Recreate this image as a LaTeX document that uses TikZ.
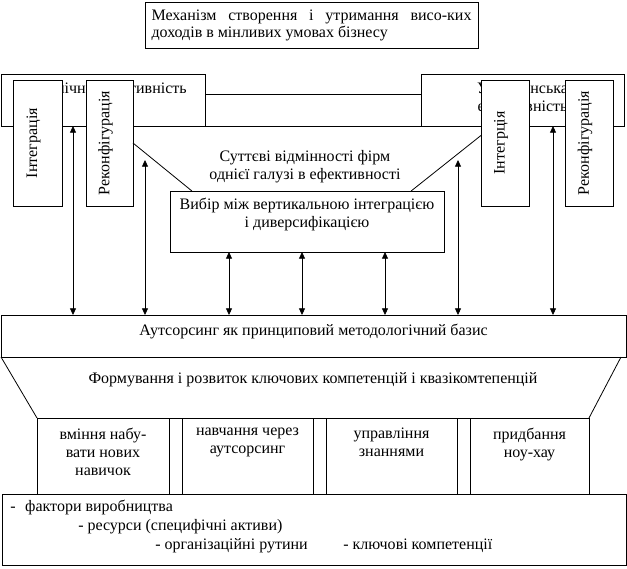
\documentclass[tikz,border=0pt]{standalone}
\usepackage{fontspec}
\setmainfont{Liberation Serif}
\usetikzlibrary{
	arrows.meta,
	positioning,
	calc
}

\begin{document}
\begin{tikzpicture}[
				x=0.75pt, y=-0.75pt,
				every node/.style={font=\fontsize{12}{13.5}\selectfont},
				frame/.style={
					rectangle, draw, fill=white, line width=0.6pt,
					inner sep=0pt, outer sep=0pt
				},
				vbox/.style={
					frame, minimum width=36pt, minimum height=94.5pt
				},
				skill/.style={
					frame, minimum height=57pt
				},
				spacer/.style={
					frame, minimum width=9.75pt, minimum height=57pt
				},
				txt/.style={align=center, inner sep=0pt},
				conn/.style={line width=0.6pt},
				arrow/.style={{Triangle[length=5pt,width=4.5pt]}-{Triangle[length=5pt,width=4.5pt]}, line width=0.6pt}
				]
				\useasboundingbox (0,0) rectangle (627,568);
				
				% mechanism
				\node[frame, minimum width=249.75pt, minimum height=34.5pt] (mech) at (311.5,25) {};
				\node[txt, text width=240pt, align=justify, font=\fontsize{12}{12.75}\selectfont] (mecht) at (mech.center) {Механізм створення і утримання висо-ких\linebreak доходів в мінливих умовах бізнесу};
				
				% efficiency boxes
				\node[frame, minimum width=153pt, minimum height=39pt] (dyn) at (103,100) {};
				\node[txt] (dynt) at (103,90) {Динамічна ефективність};
				\node[frame, minimum width=152.25pt, minimum height=39pt] (upr) at (522.5,100) {};
				\node[txt] (uprt) at (522.5,99) {Управлінська\\ефективність};
				
				% band between them
				\coordinate (band) at ($(dyn.north east)!0.4!(dyn.south east)$);
				\draw[conn] (band) -- (band -| upr.west);
				\draw[conn] (dyn.south east) -- (upr.south west);
				
				% vertical boxes
				\node[vbox, minimum width=36.75pt] (int1) at (37.5,143) {};
				\node[txt, rotate=90] (int1t) at ([xshift=-3pt]int1.center) {Інтеграція};
				\node[vbox, minimum width=35.25pt] (rek1) at (109.5,143) {};
				\node[txt, rotate=90] (rek1t) at ([xshift=-3pt]rek1.center) {Реконфігурація};
				\node[vbox] (int2) at (505,143) {};
				\node[txt, rotate=90] (int2t) at ([xshift=-3pt]int2.center) {Інтегрція};
				\node[vbox] (rek2) at (589,143) {};
				\node[txt, rotate=90] (rek2t) at ([xshift=-3pt]rek2.center) {Реконфігурація};
				
				% choice
				\node[frame, minimum width=205.5pt, minimum height=45.75pt] (vyb) at (307,221.5) {};
				\node[txt, below=5pt of vyb.north] (vybt) {Вибір між вертикальною інтеграцією\\і диверсифікацією};
				\node[txt] (diff) at (305,167) {Суттєві відмінності фірм\\однієї галузі в ефективності};
				
				\draw[conn] (rek1.east) -- ($(vyb.north west)!0.08!(vyb.north east)$);
				\draw[conn] ($(int2.north west)!0.44!(int2.south west)$) -- ($(vyb.north west)!0.88!(vyb.north east)$);
				
				% outsourcing
				\node[frame, minimum width=468.75pt, minimum height=31.5pt] (aut) at (313.5,336) {};
				\node[txt] (autt) at (313.5,331) {Аутсорсинг як принциповий методологічний базис};
				
				% arrows
				\coordinate (tipL) at (145,160);
				\coordinate (tipR) at (458,160);
				\draw[arrow] (73,0 |- dyn.south) -- (73,0 |- aut.north);
				\draw[arrow] (tipL) -- (tipL |- aut.north);
				\foreach \ax in {229,302,385}
					\draw[arrow] (\ax,0 |- vyb.south) -- (\ax,0 |- aut.north);
				\draw[arrow] (tipR) -- (tipR |- aut.north);
				\draw[arrow] (553,0 |- upr.south) -- (553,0 |- aut.north);
				
				\node[txt] (form) at (313,380) {Формування і розвиток ключових компетенцій і квазікомтепенцій};
				
				% competences
				\node[skill, minimum width=99pt] (sk1) at (103,456) {};
				\node[spacer, right=0pt of sk1] (sp1) {};
				\node[skill, minimum width=98.25pt, right=0pt of sp1] (sk2) {};
				\node[spacer, right=0pt of sk2] (sp2) {};
				\node[skill, minimum width=98.25pt, right=0pt of sp2] (sk3) {};
				\node[spacer, right=0pt of sk3] (sp3) {};
				\node[skill, minimum width=89.25pt, right=0pt of sp3] (sk4) {};
				
				\node[txt, below=7pt of sk1.north] (sk1t) {вміння набу-\\вати нових\\навичок};
				\node[txt, below=7pt of sk2.north] (sk2t) {навчання через\\аутсорсинг};
				\node[txt, below=7pt of sk3.north] (sk3t) {управління\\знаннями};
				\node[txt, below=7pt of sk4.north] (sk4t) {придбання\\ноу-хау};
				
				\draw[conn] (aut.south west) -- (sk1.north west);
				\draw[conn] ([xshift=-3.75pt]aut.south east) -- (sk4.north east);
				
				% factors
				\node[frame, minimum width=468pt, minimum height=53.25pt] (fac) at (314,529.5) {};
				\node[txt, align=left, font=\fontsize{12}{14.6}\selectfont, below right=4pt and 6pt of fac.north west] (fact) {-\hspace{0.6em}фактори виробництва\\
					\hspace*{51pt}- ресурси (специфічні активи)\\
					\hspace*{108.75pt}\makebox[141pt][l]{- організаційні рутини}- ключові компетенції};
			\end{tikzpicture}
\end{document}
